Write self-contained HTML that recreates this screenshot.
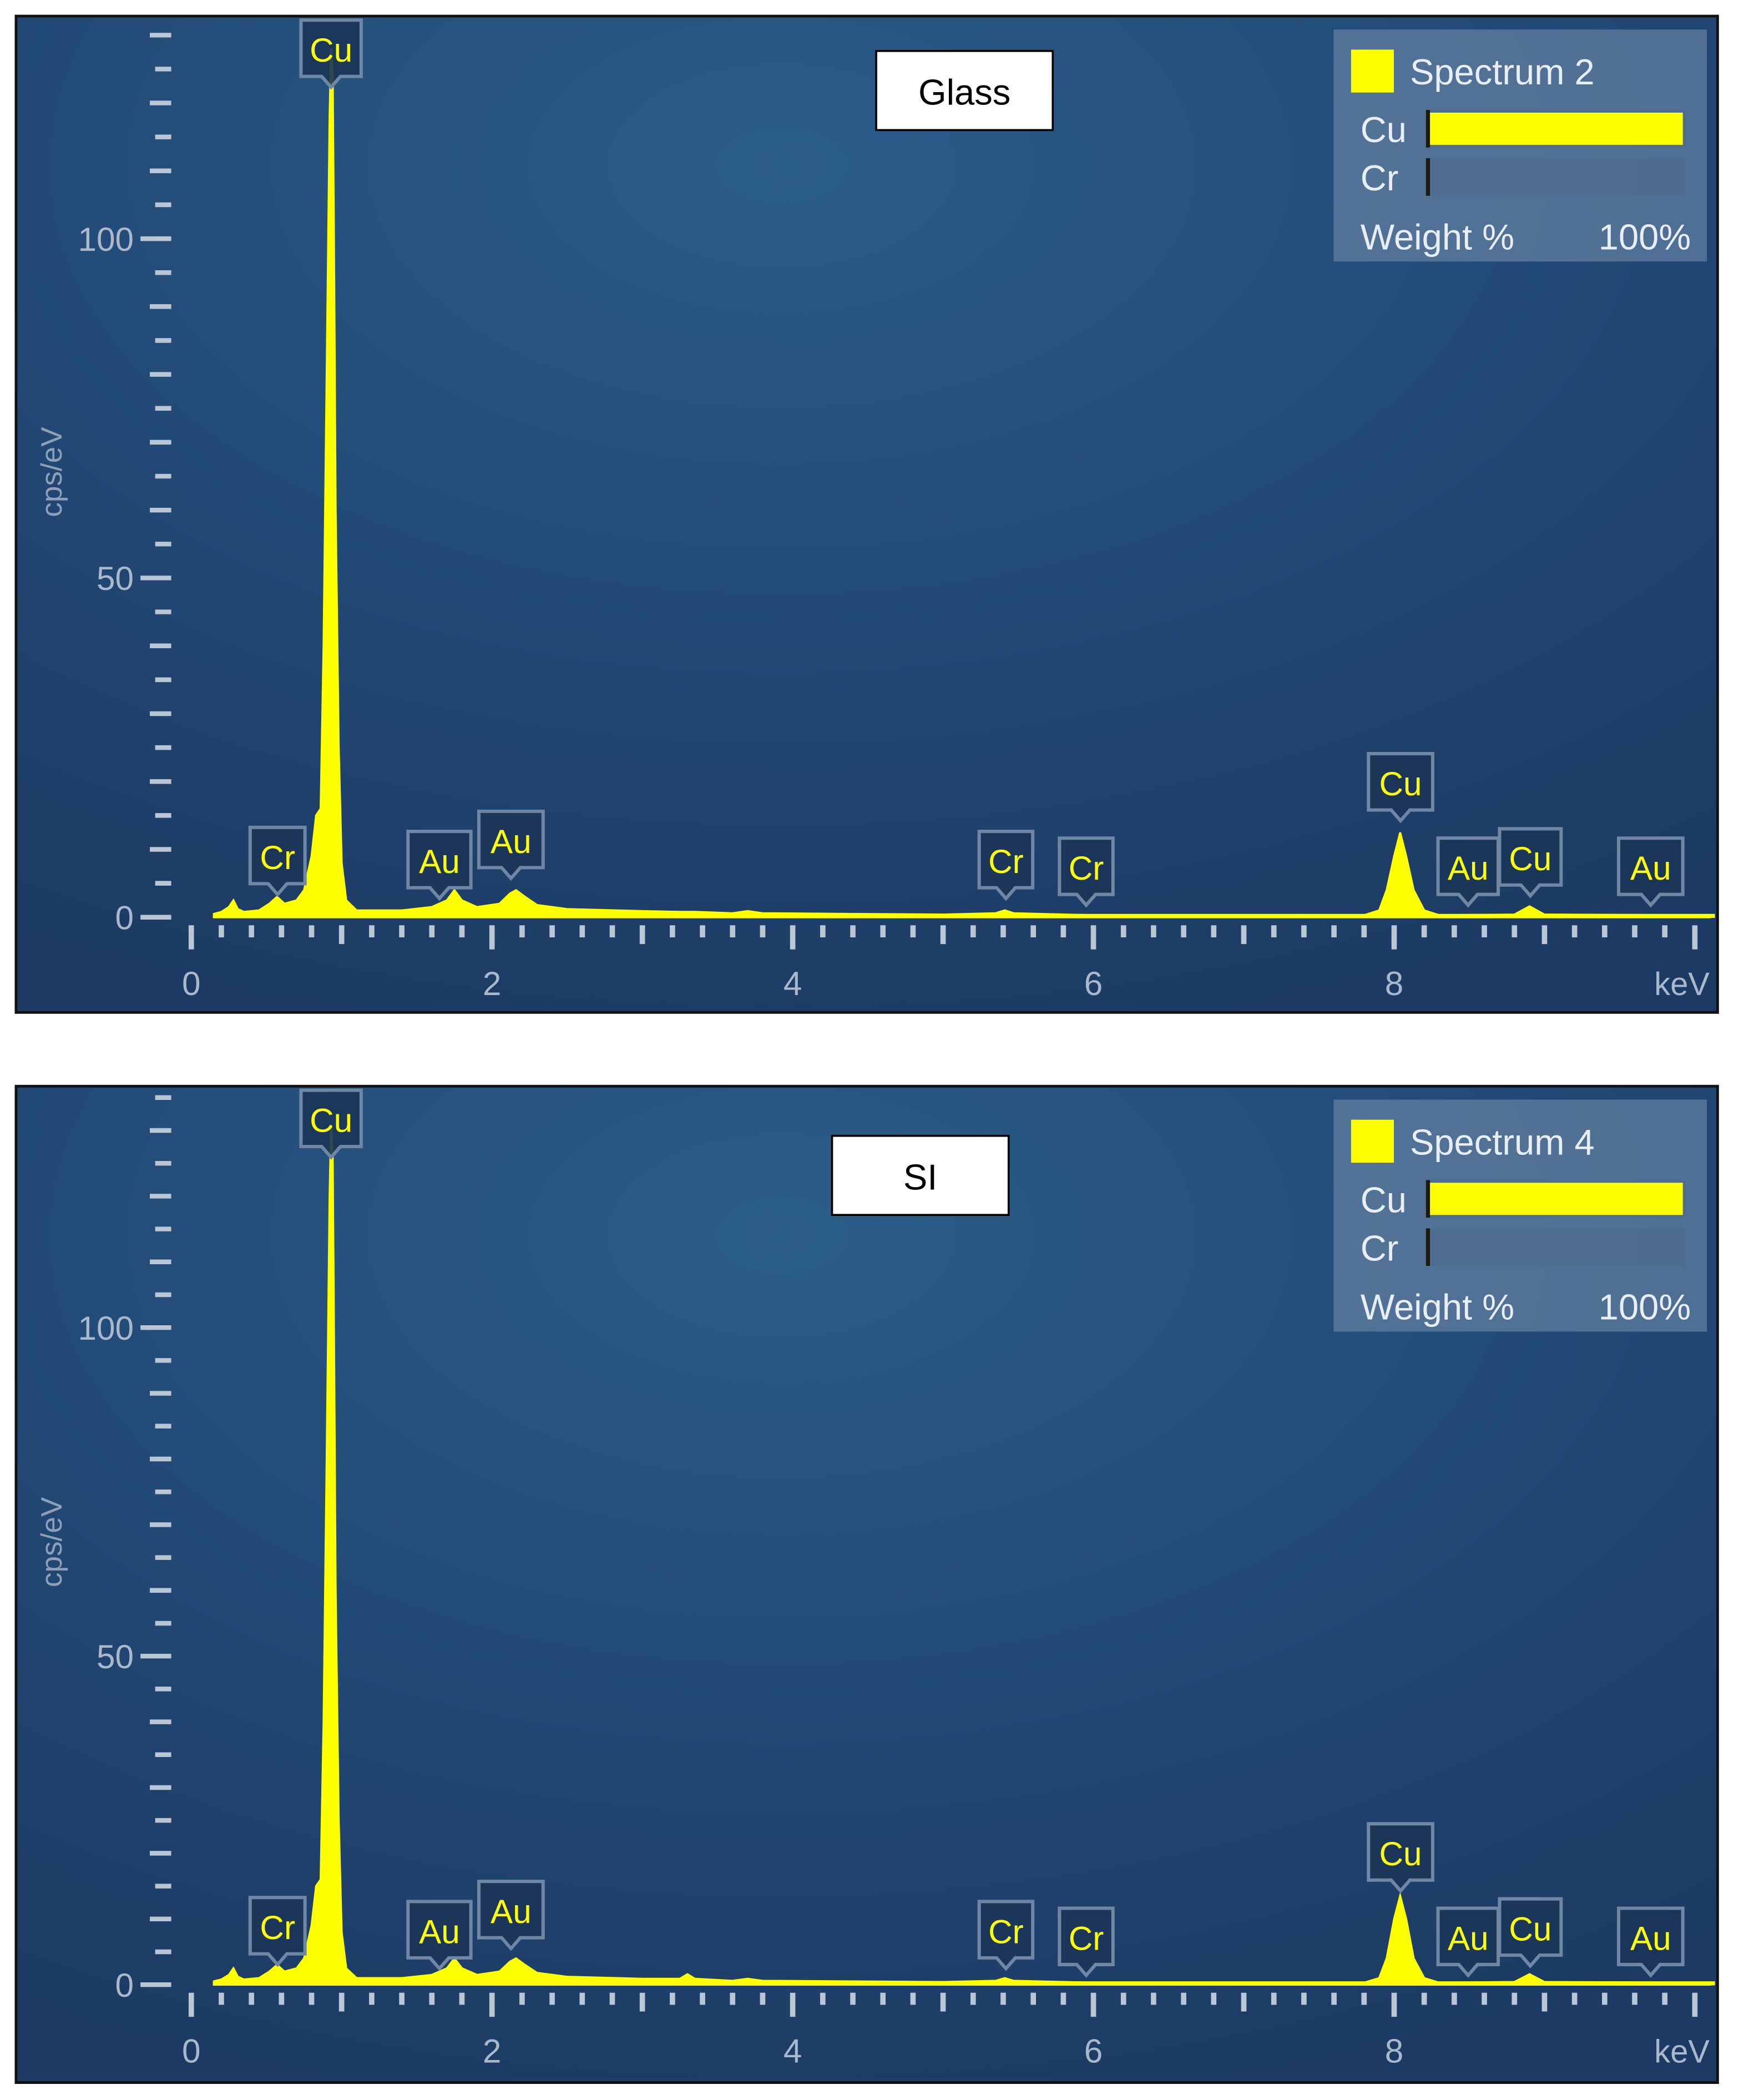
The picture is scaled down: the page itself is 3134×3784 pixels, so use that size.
<!DOCTYPE html>
<html><head><meta charset="utf-8"><style>
html,body{margin:0;padding:0;background:#fff;}
svg{display:block;}
text{font-family:"Liberation Sans","DejaVu Sans",sans-serif;}
</style></head><body>
<svg id="root" width="3134" height="3784" viewBox="0 0 1300 1566" preserveAspectRatio="none" xmlns="http://www.w3.org/2000/svg">
<defs>
<radialGradient id="bg" cx="0.45" cy="0.15" r="0.9">
<stop offset="0" stop-color="#2b5d8a"/>
<stop offset="0.6" stop-color="#214672"/>
<stop offset="1" stop-color="#1c3a63"/>
</radialGradient>
</defs>
</svg>
<script>
// ---- data ----
const energyKeV = [0.15,0.2,0.25,0.28,0.31,0.35,0.45,0.52,0.57,0.62,0.7,0.75,0.8,0.83,0.86,0.88,0.9,0.92,0.93,0.94,0.95,0.96,0.98,1.0,1.03,1.1,1.4,1.6,1.7,1.75,1.8,1.9,2.05,2.12,2.16,2.22,2.3,2.5,3.0,3.25,3.3,3.35,3.6,3.7,3.8,5.0,5.35,5.41,5.47,6.0,7.8,7.9,7.95,8.0,8.04,8.08,8.13,8.2,8.3,8.8,8.9,9.0,10.1];
const glassCps  = [0.5,0.8,1.5,2.5,1.2,0.8,1.0,2.0,3.0,2.0,2.5,4,9,15,16,40,80,118,128,124,95,60,25,8,2.5,1,1,1.5,2.5,4,2.5,1.5,2,3.5,4,3,1.8,1.2,0.9,0.8,0.8,0.8,0.6,0.9,0.6,0.4,0.6,1.0,0.6,0.3,0.3,1,4,9,12.5,9,4,1,0.3,0.4,1.6,0.4,0.3];
const siCps     = [0.5,0.8,1.5,2.5,1.2,0.8,1.0,2.0,3.0,2.0,2.5,4,9,15,16,40,80,120,131,126,95,60,25,8,2.5,1,1,1.5,2.5,4,2.5,1.5,2,3.5,4,3,1.8,1.2,0.9,0.9,1.6,0.9,0.6,0.9,0.6,0.4,0.6,1.0,0.6,0.3,0.3,1,4,10,13.5,10,4,1,0.3,0.4,1.6,0.4,0.3];
const xTickLabels = [0,2,4,6,8];
const yTickLabels = [0,50,100];
const legendNames = ["Spectrum 2","Spectrum 4"];
const panelTitles = ["Glass","SI"];
const cuWeight = [100,100];
const crWeight = [0,0];
const peakElems = ["Cu","Cr","Au","Au","Cr","Cr","Cu","Au","Cu","Au"];
const peakBoxX = [225,187,305,358,732,792,1023,1075,1121,1210];
const peakBoxY = [3,605,608,593,608,613,550,613,606,613];
const peakBoxW = [45,41,47,48,40,40,48,45,46,48];

const NS="http://www.w3.org/2000/svg";
const root=document.getElementById('root');
function mk(tag,attrs,parent){const e=document.createElementNS(NS,tag);for(const k in attrs)e.setAttribute(k,attrs[k]);(parent||root).appendChild(e);return e;}

function drawPanel(idx, top, y0, ppu, cps, ymaxUnits){
  const g=mk('g',{});
  
  
  const bg=mk('rect',{x:12,y:top,width:1272,height:743,fill:'url(#bg)',stroke:'#111',"stroke-width":2},g);
  
  
  const x0=143, pk=112.4;
  const X=v=>x0+v*pk, Y=v=>y0-v*ppu;
  for(let v=0; v<=ymaxUnits; v+=5){
    const long=(v%10===0);
    const t=mk('line',{x1:long?(v%50===0?105:112):116,x2:128,y1:Y(v),y2:Y(v),stroke:'#b9c6d6',"stroke-width":3.5},g);
    
    
  }
  yTickLabels.forEach(v=>{
    const t=mk('text',{x:100,y:Y(v)+9,"text-anchor":'end',"font-size":25,fill:'#a9b8cb'},g);
    t.textContent=v;
    
    
  });
  const yt=mk('text',{x:0,y:0,transform:`translate(46 ${top+340}) rotate(-90)`,"text-anchor":'middle',"font-size":22,fill:'#8da0b8'},g);
  yt.textContent='cps/eV';
  
  
  for(let i=0;i<=50;i++){
    const v=i*0.2, isInt=(i%5===0), even=(i%10===0);
    const t=mk('line',{x1:X(v),x2:X(v),y1:y0+6,y2:y0+(even?24:isInt?20:15),stroke:'#b9c6d6',"stroke-width":4},g);
    
    
  }
  xTickLabels.forEach(v=>{
    const t=mk('text',{x:X(v),y:y0+58,"text-anchor":'middle',"font-size":25,fill:'#a9b8cb'},g);
    t.textContent=v;
    
    
  });
  const kt=mk('text',{x:1278,y:y0+58,"text-anchor":'end',"font-size":24,fill:'#a9b8cb'},g);
  kt.textContent='keV';
  
  
  let d=`M${X(energyKeV[0])},${y0} `;
  energyKeV.forEach((e,i)=>{d+=`L${X(e).toFixed(1)},${Y(cps[i]).toFixed(1)} `;});
  d+=`L${X(energyKeV[energyKeV.length-1])},${y0} Z`;
  const sp=mk('path',{d:d,fill:'#ffff00',stroke:'#ffff00',"stroke-width":1.5},g);
  
  
  const bl=mk('line',{x1:X(0.15),x2:1282,y1:y0-1,y2:y0-1,stroke:'#ffff00',"stroke-width":3},g);
  
  
  peakElems.forEach((el,i)=>{
    const bx=peakBoxX[i], by=top+peakBoxY[i], bw=peakBoxW[i], bh=42;
    const lg=mk('g',{},g);
    
    
    mk('path',{d:`M${bx},${by} h${bw} v${bh} h${-bw/2+7} l-7,8 l-7,-8 h${-bw/2+7} Z`,fill:'#1b3557',stroke:'#6f87a5',"stroke-width":2.5,"fill-opacity":0.9},lg);
    const t=mk('text',{x:bx+bw/2,y:by+31,"text-anchor":'middle',"font-size":25,fill:'#ffff00'},lg);
    t.textContent=el;
  });
  const tb=[[655,26],[622,37]][idx];
  const tg=mk('g',{},g);
  
  
  mk('rect',{x:tb[0],y:top+tb[1],width:132,height:59,fill:'#fff',stroke:'#000',"stroke-width":1.5},tg);
  const tt=mk('text',{x:tb[0]+66,y:top+tb[1]+40,"text-anchor":'middle',"font-size":27,fill:'#000'},tg);
  tt.textContent=panelTitles[idx];
  const lgd=mk('g',{},g);
  
  
  const ly=top+10;
  mk('rect',{x:997,y:ly,width:279,height:173,fill:'#6a86a6',"fill-opacity":0.65},lgd);
  mk('rect',{x:1010,y:ly+15,width:32,height:32,fill:'#ffff00'},lgd);
  const ln=mk('text',{x:1054,y:ly+41,"font-size":27,fill:'#e8eef5'},lgd);
  ln.textContent=legendNames[idx];
  const rows=[["Cu",cuWeight[idx]],["Cr",crWeight[idx]]];
  rows.forEach((r,j)=>{
    const ry=ly+60+j*36;
    const lt=mk('text',{x:1017,y:ry+24,"font-size":27,fill:'#e8eef5'},lgd);
    lt.textContent=r[0];
    mk('rect',{x:1066,y:ry,width:194,height:28,fill:'#4d6a8c',"fill-opacity":0.6},lgd);
    mk('rect',{x:1066,y:ry,width:3,height:28,fill:'#1a1a10'},lgd);
    const br=mk('rect',{x:1069,y:ry+2,width:189*r[1]/100,height:24,fill:'#ffff00'},lgd);
    
    
  });
  const wt=mk('text',{x:1017,y:ly+164,"font-size":27,fill:'#e8eef5'},lgd);
  wt.textContent='Weight %';
  const wp=mk('text',{x:1264,y:ly+164,"text-anchor":'end',"font-size":27,fill:'#e8eef5'},lgd);
  wp.textContent='100%';
}
drawPanel(0,12,684,5.06,glassCps,130);
drawPanel(1,810,1480,4.9,siCps,135);
</script>
</body></html>
